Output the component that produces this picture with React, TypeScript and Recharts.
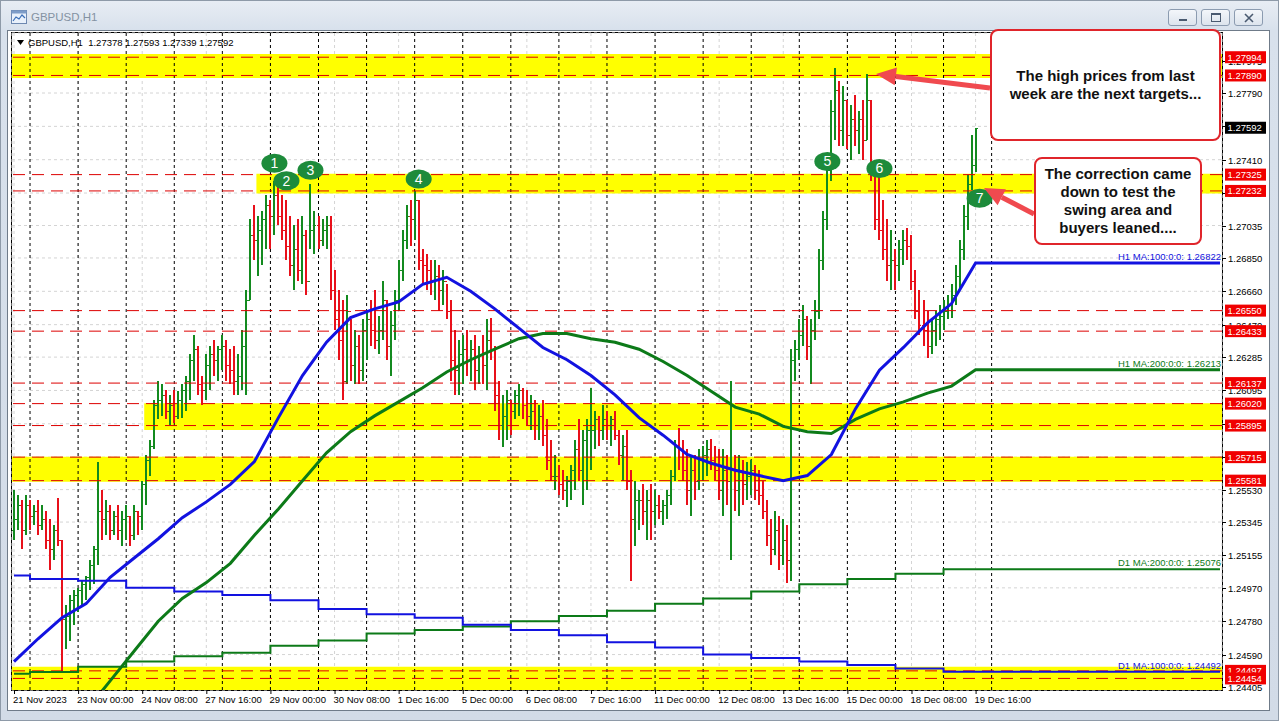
import React from 'react';
import {
  ComposedChart,
  Bar,
  Line,
  XAxis,
  YAxis,
  CartesianGrid,
  ReferenceLine,
  ReferenceArea,
  ReferenceDot,
} from 'recharts';

const FONT = "'Liberation Sans', Arial, Helvetica, sans-serif";

// ---------- time axis (2-hour bars) ----------
const tradingDays = [
  '21 Nov', '22 Nov', '23 Nov', '24 Nov', '27 Nov', '28 Nov', '29 Nov', '30 Nov',
  '1 Dec', '4 Dec', '5 Dec', '6 Dec', '7 Dec', '8 Dec', '11 Dec', '12 Dec', '13 Dec',
  '14 Dec', '15 Dec', '18 Dec', '19 Dec', '20 Dec', '21 Dec', '22 Dec', '25 Dec', '26 Dec',
];
const firstBarHour = 16; // 21 Nov 16:00
const barHours = 2;
const slotCount = 302; // bars + empty shift space on the right

const xTickLabels = [
  '21 Nov 2023', '23 Nov 00:00', '24 Nov 08:00', '27 Nov 16:00', '29 Nov 00:00',
  '30 Nov 08:00', '1 Dec 16:00', '5 Dec 00:00', '6 Dec 08:00', '7 Dec 16:00',
  '11 Dec 00:00', '12 Dec 08:00', '13 Dec 16:00', '15 Dec 00:00', '18 Dec 08:00',
  '19 Dec 16:00',
];

// ---------- price bars ----------
const firstOpen = 1.253;
const barHigh = [
  1.2553, 1.2550, 1.2547, 1.2550,
  1.2547, 1.2544, 1.2547, 1.2544, 1.2541, 1.2536, 1.2533, 1.2548, 1.2524, 1.2487, 1.2493, 1.2496,
  1.2497, 1.2501, 1.2504, 1.2513, 1.2521, 1.2569, 1.2553, 1.2547, 1.2544, 1.2541, 1.2544, 1.2541,
  1.2544, 1.2538, 1.2544, 1.2541, 1.2558, 1.2573, 1.2581, 1.2604, 1.2615, 1.2613, 1.2610, 1.2607,
  1.2610, 1.2609, 1.2613, 1.2618, 1.2630, 1.2641, 1.2635, 1.2618, 1.2630, 1.2635, 1.2638, 1.2635,
  1.2641, 1.2638, 1.2633, 1.2635, 1.2630, 1.2644, 1.2667, 1.2707, 1.2715, 1.2709, 1.2712, 1.2721,
  1.2718, 1.2729, 1.2727, 1.2721, 1.2718, 1.2709, 1.2704, 1.2707, 1.2709, 1.2701, 1.2727, 1.2712,
  1.2709, 1.2707, 1.2709, 1.2709, 1.2678, 1.2667, 1.2661, 1.2664, 1.2650, 1.2644, 1.2641, 1.2650,
  1.2655, 1.2661, 1.2667, 1.2652, 1.2672, 1.2661, 1.2655, 1.2667, 1.2684, 1.2701, 1.2715, 1.2718,
  1.2723, 1.2718, 1.2690, 1.2687, 1.2684, 1.2684, 1.2681, 1.2678, 1.2670, 1.2661, 1.2644, 1.2638,
  1.2641, 1.2644, 1.2638, 1.2641, 1.2635, 1.2641, 1.2650, 1.2651, 1.2635, 1.2615, 1.2607, 1.2610,
  1.2604, 1.2610, 1.2613, 1.2611, 1.2610, 1.2607, 1.2604, 1.2601, 1.2604, 1.2593, 1.2581, 1.2573,
  1.2567, 1.2564, 1.2561, 1.2567, 1.2581, 1.2593, 1.2587, 1.2593, 1.2611, 1.2598, 1.2595, 1.2601,
  1.2598, 1.2595, 1.2598, 1.2587, 1.2584, 1.2587, 1.2564, 1.2558, 1.2553, 1.2556, 1.2553, 1.2556,
  1.2553, 1.2550, 1.2547, 1.2553, 1.2564, 1.2581, 1.2588, 1.2581, 1.2576, 1.2573, 1.2573, 1.2576,
  1.2578, 1.2581, 1.2582, 1.2578, 1.2576, 1.2576, 1.2573, 1.2615, 1.2573, 1.2573, 1.2570, 1.2569,
  1.2570, 1.2567, 1.2564, 1.2558, 1.2547, 1.2536, 1.2541, 1.2538, 1.2536, 1.2533, 1.2633, 1.2638,
  1.2650, 1.2658, 1.2652, 1.2650, 1.2661, 1.2690, 1.2712, 1.2741, 1.2775, 1.2793, 1.2786, 1.2783,
  1.2775, 1.2772, 1.2778, 1.2769, 1.2775, 1.2790, 1.2775, 1.2741, 1.2732, 1.2718, 1.2707, 1.2701,
  1.2690, 1.2695, 1.2701, 1.2702, 1.2698, 1.2678, 1.2667, 1.2661, 1.2655, 1.2650, 1.2655, 1.2658,
  1.2661, 1.2664, 1.2670, 1.2681, 1.2695, 1.2715, 1.2732, 1.2755, 1.27593,
];
const barLow = [
  1.2524, 1.2530, 1.2519, 1.2527,
  1.2530, 1.2533, 1.2527, 1.2530, 1.2519, 1.2507, 1.2513, 1.2521, 1.2449, 1.2462, 1.2467, 1.2476,
  1.2483, 1.2487, 1.2490, 1.2496, 1.2499, 1.2510, 1.2524, 1.2527, 1.2524, 1.2527, 1.2524, 1.2521,
  1.2524, 1.2521, 1.2524, 1.2527, 1.2530, 1.2544, 1.2561, 1.2576, 1.2593, 1.2595, 1.2593, 1.2590,
  1.2591, 1.2593, 1.2594, 1.2598, 1.2604, 1.2615, 1.2607, 1.2601, 1.2604, 1.2610, 1.2618, 1.2615,
  1.2621, 1.2615, 1.2613, 1.2607, 1.2607, 1.2610, 1.2607, 1.2661, 1.2684, 1.2675, 1.2681, 1.2690,
  1.2690, 1.2698, 1.2704, 1.2695, 1.2684, 1.2675, 1.2667, 1.2672, 1.2670, 1.2664, 1.2690, 1.2687,
  1.2690, 1.2692, 1.2690, 1.2661, 1.2644, 1.2627, 1.2604, 1.2613, 1.2615, 1.2613, 1.2613, 1.2615,
  1.2627, 1.2635, 1.2633, 1.2630, 1.2638, 1.2627, 1.2618, 1.2638, 1.2655, 1.2672, 1.2690, 1.2692,
  1.2695, 1.2678, 1.2670, 1.2667, 1.2664, 1.2661, 1.2655, 1.2658, 1.2650, 1.2615, 1.2607, 1.2607,
  1.2613, 1.2618, 1.2615, 1.2610, 1.2613, 1.2613, 1.2610, 1.2627, 1.2598, 1.2581, 1.2577, 1.2581,
  1.2584, 1.2593, 1.2595, 1.2593, 1.2590, 1.2587, 1.2581, 1.2581, 1.2578, 1.2564, 1.2558, 1.2553,
  1.2550, 1.2547, 1.2543, 1.2547, 1.2553, 1.2558, 1.2544, 1.2553, 1.2564, 1.2576, 1.2578, 1.2581,
  1.2581, 1.2578, 1.2581, 1.2567, 1.2558, 1.2553, 1.2501, 1.2521, 1.2530, 1.2533, 1.2524, 1.2524,
  1.2533, 1.2536, 1.2533, 1.2536, 1.2544, 1.2558, 1.2564, 1.2558, 1.2544, 1.2538, 1.2547, 1.2553,
  1.2558, 1.2561, 1.2564, 1.2558, 1.2547, 1.2538, 1.2544, 1.2513, 1.2541, 1.2538, 1.2544, 1.2547,
  1.2550, 1.2547, 1.2544, 1.2536, 1.2521, 1.2510, 1.2516, 1.2507, 1.2510, 1.2500, 1.2501, 1.2615,
  1.2627, 1.2635, 1.2627, 1.2613, 1.2638, 1.2650, 1.2678, 1.2701, 1.2729, 1.2752, 1.2749, 1.2749,
  1.2747, 1.2741, 1.2749, 1.2744, 1.2741, 1.2752, 1.2729, 1.2701, 1.2695, 1.2684, 1.2672, 1.2667,
  1.2667, 1.2672, 1.2681, 1.2684, 1.2667, 1.2650, 1.2641, 1.2635, 1.2628, 1.2630, 1.2635, 1.2638,
  1.2644, 1.2650, 1.2651, 1.2658, 1.2667, 1.2684, 1.2701, 1.2724, 1.27339,
];
const barClose = [
  1.2536, 1.2544, 1.2530, 1.2544,
  1.2538, 1.2541, 1.2533, 1.2536, 1.2524, 1.2519, 1.2530, 1.2524, 1.2479, 1.2481, 1.2490, 1.2493,
  1.2496, 1.2499, 1.2503, 1.2510, 1.2519, 1.2541, 1.2536, 1.2541, 1.2530, 1.2538, 1.2530, 1.2536,
  1.2538, 1.2527, 1.2541, 1.2538, 1.2556, 1.2570, 1.2578, 1.2601, 1.2604, 1.2607, 1.2598, 1.2601,
  1.2595, 1.2604, 1.2610, 1.2615, 1.2627, 1.2633, 1.2613, 1.2610, 1.2624, 1.2630, 1.2627, 1.2633,
  1.2635, 1.2624, 1.2621, 1.2615, 1.2618, 1.2635, 1.2661, 1.2698, 1.2695, 1.2701, 1.2707, 1.2715,
  1.2709, 1.2721, 1.2709, 1.2701, 1.2692, 1.2681, 1.2690, 1.2678, 1.2698, 1.2672, 1.2701, 1.2704,
  1.2695, 1.2701, 1.2704, 1.2667, 1.2650, 1.2638, 1.2615, 1.2655, 1.2624, 1.2635, 1.2621, 1.2644,
  1.2650, 1.2644, 1.2638, 1.2644, 1.2661, 1.2635, 1.2647, 1.2661, 1.2678, 1.2695, 1.2709, 1.2707,
  1.2718, 1.2684, 1.2681, 1.2678, 1.2672, 1.2675, 1.2667, 1.2672, 1.2655, 1.2627, 1.2621, 1.2630,
  1.2633, 1.2627, 1.2633, 1.2621, 1.2630, 1.2624, 1.2638, 1.2633, 1.2607, 1.2590, 1.2595, 1.2604,
  1.2598, 1.2607, 1.2610, 1.2601, 1.2595, 1.2598, 1.2590, 1.2595, 1.2584, 1.2570, 1.2561, 1.2561,
  1.2556, 1.2553, 1.2558, 1.2564, 1.2576, 1.2564, 1.2581, 1.2587, 1.2587, 1.2593, 1.2587, 1.2593,
  1.2590, 1.2593, 1.2584, 1.2573, 1.2578, 1.2558, 1.2536, 1.2547, 1.2547, 1.2541, 1.2547, 1.2541,
  1.2544, 1.2541, 1.2544, 1.2550, 1.2561, 1.2578, 1.2576, 1.2564, 1.2553, 1.2564, 1.2558, 1.2570,
  1.2573, 1.2576, 1.2570, 1.2564, 1.2553, 1.2564, 1.2558, 1.2564, 1.2553, 1.2564, 1.2556, 1.2561,
  1.2564, 1.2553, 1.2550, 1.2541, 1.2527, 1.2519, 1.2530, 1.2516, 1.2524, 1.2513, 1.2627, 1.2633,
  1.2641, 1.2650, 1.2635, 1.2644, 1.2655, 1.2684, 1.2707, 1.2735, 1.2769, 1.2781, 1.2758, 1.2775,
  1.2755, 1.2764, 1.2758, 1.2764, 1.2752, 1.2775, 1.2735, 1.2707, 1.2701, 1.2690, 1.2681, 1.2684,
  1.2681, 1.2690, 1.2695, 1.2692, 1.2672, 1.2655, 1.2647, 1.2644, 1.2635, 1.2644, 1.2650, 1.2652,
  1.2655, 1.2658, 1.2664, 1.2675, 1.2690, 1.2709, 1.2727, 1.27378, 1.27592,
];

// ---------- moving averages ----------
const h1MaStep = 6; // one reading every 6 bars
const h1Ma100 = [
  1.2455, 1.2468, 1.2480, 1.2488, 1.2503, 1.2514, 1.2525, 1.2537, 1.2546, 1.2556, 1.2569,
  1.2594, 1.2618, 1.2637, 1.2651, 1.2656, 1.2660, 1.2670, 1.2674, 1.2666, 1.2656, 1.2645,
  1.2634, 1.2627, 1.2618, 1.2607, 1.2594, 1.2584, 1.2573, 1.2568, 1.2564, 1.2561, 1.2558,
  1.2561, 1.2573, 1.2599, 1.2621, 1.2634, 1.2648, 1.2659, 1.26822,
];
const h1Ma200 = [
  null, null, null, 1.2427, 1.2444, 1.2461, 1.2478, 1.2491, 1.2500, 1.2511, 1.2527,
  1.2542, 1.2558, 1.2574, 1.2586, 1.2595, 1.2603, 1.2611, 1.2620, 1.2627, 1.2633, 1.2639,
  1.2642, 1.2642, 1.2639, 1.2637, 1.2633, 1.2626, 1.2618, 1.2609, 1.2600, 1.2596, 1.2589,
  1.2586, 1.2585, 1.2593, 1.2599, 1.2603, 1.2608, 1.2612, 1.26213,
];
const d1Ma200 = [
  1.2448, 1.2449, 1.2452, 1.2455, 1.2458, 1.2460, 1.2464, 1.2467, 1.2471, 1.2473, 1.2475,
  1.2478, 1.2481, 1.2484, 1.2488, 1.2491, 1.2495, 1.2499, 1.2502, 1.2505, 1.25076,
];
const d1Ma100 = [
  1.2504, 1.2502, 1.2501, 1.2497, 1.2495, 1.2493, 1.2490, 1.2485, 1.2482, 1.2480, 1.2476,
  1.2473, 1.2470, 1.2466, 1.2463, 1.2459, 1.2457, 1.2455, 1.2453, 1.2451, 1.24492,
];

// ---------- price axis ----------
const Y_MIN = 1.24388;
const Y_MAX = 1.28132;
const yTicks = [
  1.24405, 1.2459, 1.2478, 1.2497, 1.25155, 1.25345, 1.2553, 1.25715, 1.25905, 1.26095,
  1.26285, 1.2647, 1.2666, 1.2685, 1.27035, 1.2722, 1.2741, 1.276, 1.2779, 1.27975,
];
const levelLines = [
  1.27994, 1.2789, 1.27325, 1.27232, 1.2655, 1.26433, 1.26137, 1.2602, 1.25895, 1.25715,
  1.25581, 1.24497, 1.24454,
];
const lastPrice = 1.27592;
const headerText = 'GBPUSD,H1  1.27378 1.27593 1.27339 1.27592';

// yellow zones: top, bottom, first bar time (null = whole chart)
const zoneTop = [1.28012, 1.2733, 1.26022, 1.25717, 1.2452];
const zoneBottom = [1.27876, 1.27218, 1.2587, 1.25575, 1.24388];
const zoneStart = [null, '28 Nov 18:00', '24 Nov 10:00', null, null];

// swing markers
const swingNumbers = ['1', '2', '3', '4', '5', '6', '7'];
const swingTimes = [
  '29 Nov 02:00', '29 Nov 08:00', '29 Nov 20:00', '4 Dec 02:00', '14 Dec 14:00',
  '15 Dec 16:00', '19 Dec 18:00',
];
const swingPrices = [1.2739, 1.2729, 1.2735, 1.273, 1.274, 1.2736, 1.2719];

// ---------- colours ----------
const BAR_UP = '#138a1f';
const BAR_DOWN = '#e8101a';
const MA_BLUE = '#1212e0';
const MA_GREEN = '#0c7a18';
const LEVEL_RED = '#dd0000';

// ---------- build table ----------
const slots: string[] = Array.from({ length: slotCount }, (_, i) => {
  const h = firstBarHour + i * barHours;
  const day = tradingDays[Math.floor(h / 24)];
  const hh = h % 24;
  return `${day} ${hh < 10 ? '0' + hh : hh}:00`;
});
const xTickCats = xTickLabels.map((l) => (l.includes(':') ? l : slots[0]));
const daySeparators = tradingDays.slice(1, 22).map((d) => `${d} 00:00`);
const d1Days = tradingDays.slice(0, d1Ma200.length);

const rows = slots.map((t, i) => {
  const row: any = { t };
  if (i < barHigh.length) {
    row.range = [barLow[i], barHigh[i]];
    row.open = i === 0 ? firstOpen : barClose[i - 1];
    row.close = barClose[i];
  }
  if (i % h1MaStep === 0 && i / h1MaStep < h1Ma100.length) {
    row.h1ma100 = h1Ma100[i / h1MaStep];
    row.h1ma200 = h1Ma200[i / h1MaStep];
  }
  const dIdx = i === 0 ? 0 : d1Days.findIndex((d) => `${d} 00:00` === t);
  if (dIdx >= 0) {
    row.d1ma200 = d1Ma200[dIdx];
    row.d1ma100 = d1Ma100[dIdx];
  }
  if (i === slotCount - 1) {
    row.h1ma100 = h1Ma100[h1Ma100.length - 1];
    row.h1ma200 = h1Ma200[h1Ma200.length - 1];
    row.d1ma200 = d1Ma200[d1Ma200.length - 1];
    row.d1ma100 = d1Ma100[d1Ma100.length - 1];
  }
  return row;
});

// ---------- renderers ----------
const OhlcShape = (props: any) => {
  const { x, y, width, height, payload } = props;
  if (!payload || !payload.range || !isFinite(y) || !isFinite(height)) return <g />;
  const [lo, hi] = payload.range;
  const span = hi - lo || 1e-9;
  const py = (p: number) => Math.round(y + ((hi - p) / span) * height) + 0.5;
  const cx = Math.round(x + width / 2);
  const col = payload.close >= payload.open ? BAR_UP : BAR_DOWN;
  const yo = py(payload.open);
  const yc = py(payload.close);
  return (
    <g stroke={col} shapeRendering="crispEdges">
      <line x1={cx} x2={cx} y1={y} y2={y + Math.max(height, 1)} strokeWidth={2} />
      <line x1={cx - 2} x2={cx} y1={yo} y2={yo} strokeWidth={1} />
      <line x1={cx} x2={cx + 2} y1={yc} y2={yc} strokeWidth={1} />
    </g>
  );
};

const XTick = (props: any) => {
  const { x, y, payload } = props;
  const idx = xTickCats.indexOf(payload.value);
  const label = idx >= 0 ? xTickLabels[idx] : payload.value;
  return (
    <g>
      <line x1={x + 0.5} x2={x + 0.5} y1={y} y2={y + 4} stroke="#000" />
      <text x={x - 1} y={y + 13} fontSize={9.5} fontFamily={FONT} fill="#000" textAnchor="start">
        {label}
      </text>
    </g>
  );
};

const tickTag = (text: string) => (props: any) => {
  const vb = props.viewBox || {};
  const x0 = vb.x + vb.width;
  const y0 = Math.round(vb.y) + 0.5;
  return (
    <g>
      <line x1={x0} x2={x0 + 4} y1={y0} y2={y0} stroke="#000" />
      <text x={x0 + 6} y={y0 + 3.5} fontSize={9.5} fontFamily={FONT} fill="#000">
        {text}
      </text>
    </g>
  );
};

const priceTag = (text: string, bg: string) => (props: any) => {
  const vb = props.viewBox || {};
  const x0 = vb.x + vb.width;
  const y0 = vb.y;
  return (
    <g>
      <rect x={x0 + 3} y={y0 - 6} width={41} height={12} fill={bg} />
      <text x={x0 + 5.5} y={y0 + 3.5} fontSize={9.5} fontFamily={FONT} fill="#fff">
        {text}
      </text>
    </g>
  );
};

const maTag = (text: string, color: string) => (props: any) => {
  const vb = props.viewBox || {};
  return (
    <text
      x={vb.x + vb.width - 1}
      y={vb.y - 3}
      textAnchor="end"
      fontSize={9.5}
      fontFamily={FONT}
      fill={color}
    >
      {text}
    </text>
  );
};

const SwingShape = (label: string) => (props: any) => {
  const { cx, cy } = props;
  return (
    <g>
      <ellipse cx={cx} cy={cy} rx={13} ry={9.5} fill="#1d8b3b" />
      <text
        x={cx}
        y={cy + 5}
        textAnchor="middle"
        fontSize={14}
        fontFamily={FONT}
        fill="#fff"
      >
        {label}
      </text>
    </g>
  );
};

function arrow(x1: number, y1: number, x2: number, y2: number, head = 20, half = 9) {
  const dx = x2 - x1;
  const dy = y2 - y1;
  const len = Math.hypot(dx, dy);
  const ux = dx / len;
  const uy = dy / len;
  const bx = x2 - ux * head;
  const by = y2 - uy * head;
  const px = -uy;
  const py = ux;
  return {
    shaft: { x1, y1, x2: bx, y2: by },
    head: `${x2},${y2} ${bx + px * half},${by + py * half} ${bx - px * half},${by - py * half}`,
  };
}

const arrow1 = arrow(990, 88, 876, 74);
const arrow2 = arrow(1034, 214, 984, 188);
const ARROW = '#f04a4f';

const btn = (left: number) => ({
  position: 'absolute' as const,
  left,
  top: 9,
  width: 29,
  height: 17,
  boxSizing: 'border-box' as const,
  border: '1px solid #8b9bb0',
  borderRadius: 3,
  background: 'linear-gradient(#f3f6fa, #dde4ed)',
});

const boxStyle = {
  position: 'absolute' as const,
  boxSizing: 'border-box' as const,
  border: '2px solid #e0252b',
  borderRadius: 8,
  background: '#fff',
  display: 'flex',
  alignItems: 'center',
  justifyContent: 'center',
  textAlign: 'center' as const,
  fontFamily: FONT,
  fontWeight: 700,
  fontSize: 15,
  lineHeight: '18px',
  color: '#111',
};

export default function App() {
  return (
    <div
      style={{
        position: 'absolute',
        left: 0,
        top: 0,
        width: 1279,
        height: 721,
        overflow: 'hidden',
        background: 'linear-gradient(180deg, #e8edf4 0px, #d8e1ec 30px, #d2dbe7 100%)',
        fontFamily: FONT,
      }}
    >
      <div
        style={{
          position: 'absolute',
          inset: 0,
          border: '1px solid #8e9aa8',
          boxSizing: 'border-box',
        }}
      />
      {/* title */}
      <svg style={{ position: 'absolute', left: 11, top: 10 }} width={16} height={14}>
        <rect x={0.5} y={0.5} width={15} height={13} fill="#e9f1fb" stroke="#6d88b0" />
        <rect x={0.5} y={0.5} width={15} height={3} fill="#7d9cc8" />
        <polyline points="2,11 5,7 8,9 11,5 14,8" fill="none" stroke="#3a6fb8" strokeWidth={1.2} />
      </svg>
      <div style={{ position: 'absolute', left: 31, top: 11, fontSize: 11.5, color: '#8492a2' }}>
        GBPUSD,H1
      </div>
      <div style={btn(1168)}>
        <div style={{ position: 'absolute', left: 10, top: 9, width: 8, height: 2, background: '#4a5a70' }} />
      </div>
      <div style={btn(1201)}>
        <div
          style={{
            position: 'absolute',
            left: 9,
            top: 3,
            width: 10,
            height: 9,
            boxSizing: 'border-box',
            border: '1px solid #4a5a70',
            borderTop: '2px solid #4a5a70',
          }}
        />
      </div>
      <div style={btn(1234)}>
        <svg style={{ position: 'absolute', left: 9, top: 3 }} width={10} height={10}>
          <path d="M1,1 L9,9 M9,1 L1,9" stroke="#4a5a70" strokeWidth={1.6} />
        </svg>
      </div>

      {/* client area */}
      <div
        style={{
          position: 'absolute',
          left: 7,
          top: 30,
          width: 1263,
          height: 681,
          background: '#fff',
          border: '1px solid #6f7b89',
          boxSizing: 'border-box',
        }}
      />
      <div
        style={{
          position: 'absolute',
          left: 11,
          top: 32,
          width: 1212,
          height: 659,
          border: '1px solid #000',
          boxSizing: 'border-box',
        }}
      />

      <div style={{ position: 'absolute', left: 0, top: 0 }}>
        <ComposedChart
          width={1279}
          height={721}
          data={rows}
          margin={{ top: 33, right: 11, bottom: 14, left: 12 }}
          barCategoryGap={0}
        >
          <CartesianGrid stroke="#d4d4d4" strokeDasharray="3 3" />
          <XAxis
            dataKey="t"
            type="category"
            ticks={xTickCats}
            interval={0}
            tick={<XTick />}
            tickLine={false}
            axisLine={false}
            tickSize={0}
            tickMargin={0}
            height={17}
          />
          <YAxis
            orientation="right"
            type="number"
            domain={[Y_MIN, Y_MAX]}
            ticks={yTicks}
            allowDataOverflow
            tick={() => <g />}
            tickLine={false}
            axisLine={false}
            width={46}
          />

          {zoneTop.map((top, k) => (
            <ReferenceArea
              key={`z${k}`}
              y1={zoneBottom[k]}
              y2={top}
              x1={zoneStart[k] ?? undefined}
              fill="#ffff00"
              fillOpacity={1}
              stroke="none"
              ifOverflow="hidden"
              zIndex={-60}
            />
          ))}

          {daySeparators.map((d) => (
            <ReferenceLine
              key={d}
              x={d}
              stroke="#000"
              strokeWidth={1}
              strokeDasharray="3 3"
              zIndex={-50}
            />
          ))}

          <Bar dataKey="range" shape={OhlcShape} isAnimationActive={false} />

          {levelLines.map((v) => (
            <ReferenceLine
              key={`l${v}`}
              y={v}
              stroke={LEVEL_RED}
              strokeWidth={1}
              strokeDasharray="12 7"
            />
          ))}

          <Line
            dataKey="d1ma200"
            type="stepAfter"
            stroke={MA_GREEN}
            strokeWidth={2}
            dot={false}
            activeDot={false}
            connectNulls
            isAnimationActive={false}
          />
          <Line
            dataKey="d1ma100"
            type="stepAfter"
            stroke={MA_BLUE}
            strokeWidth={2}
            dot={false}
            activeDot={false}
            connectNulls
            isAnimationActive={false}
          />
          <Line
            dataKey="h1ma200"
            type="linear"
            stroke={MA_GREEN}
            strokeWidth={3}
            dot={false}
            activeDot={false}
            connectNulls
            isAnimationActive={false}
          />
          <Line
            dataKey="h1ma100"
            type="linear"
            stroke={MA_BLUE}
            strokeWidth={3}
            dot={false}
            activeDot={false}
            connectNulls
            isAnimationActive={false}
          />

          {/* price scale labels */}
          {yTicks.map((v) => (
            <ReferenceLine key={`t${v}`} y={v} stroke="none" label={tickTag(v.toFixed(5))} />
          ))}
          {levelLines.map((v) => (
            <ReferenceLine
              key={`p${v}`}
              y={v}
              stroke="none"
              label={priceTag(v.toFixed(5), '#f00000')}
            />
          ))}
          <ReferenceLine y={lastPrice} stroke="none" label={priceTag(lastPrice.toFixed(5), '#000')} />

          {/* MA value labels */}
          <ReferenceLine
            y={h1Ma100[h1Ma100.length - 1]}
            stroke="none"
            label={maTag(`H1 MA:100:0:0: ${h1Ma100[h1Ma100.length - 1]!.toFixed(5)}`, MA_BLUE)}
          />
          <ReferenceLine
            y={h1Ma200[h1Ma200.length - 1]!}
            stroke="none"
            label={maTag(`H1 MA:200:0:0: ${h1Ma200[h1Ma200.length - 1]!.toFixed(5)}`, MA_GREEN)}
          />
          <ReferenceLine
            y={d1Ma200[d1Ma200.length - 1]}
            stroke="none"
            label={maTag(`D1 MA:200:0:0: ${d1Ma200[d1Ma200.length - 1].toFixed(5)}`, MA_GREEN)}
          />
          <ReferenceLine
            y={d1Ma100[d1Ma100.length - 1]}
            stroke="none"
            label={maTag(`D1 MA:100:0:0: ${d1Ma100[d1Ma100.length - 1].toFixed(5)}`, MA_BLUE)}
          />

          {swingNumbers.map((n, k) => (
            <ReferenceDot
              key={`s${n}`}
              x={swingTimes[k]}
              y={swingPrices[k]}
              r={10}
              shape={SwingShape(n)}
            />
          ))}
        </ComposedChart>
      </div>

      {/* header inside chart */}
      <svg style={{ position: 'absolute', left: 17, top: 40 }} width={8} height={6}>
        <polygon points="0,0 7,0 3.5,5" fill="#000" />
      </svg>
      <div
        style={{
          position: 'absolute',
          left: 28,
          top: 37,
          fontSize: 9.5,
          color: '#000',
          whiteSpace: 'pre',
          lineHeight: '12px',
        }}
      >
        {headerText}
      </div>

      {/* annotation arrows */}
      <svg
        style={{ position: 'absolute', left: 0, top: 0, pointerEvents: 'none' }}
        width={1279}
        height={721}
      >
        <line {...arrow1.shaft} stroke={ARROW} strokeWidth={5} />
        <polygon points={arrow1.head} fill={ARROW} />
        <line {...arrow2.shaft} stroke={ARROW} strokeWidth={5} />
        <polygon points={arrow2.head} fill={ARROW} />
      </svg>

      {/* annotation boxes */}
      <div style={{ ...boxStyle, left: 990, top: 29, width: 231, height: 112 }}>
        <div>
          The high prices from last
          <br />
          week are the next targets...
        </div>
      </div>
      <div style={{ ...boxStyle, left: 1034, top: 157, width: 168, height: 88 }}>
        <div>
          The correction came
          <br />
          down to test the
          <br />
          swing area and
          <br />
          buyers leaned....
        </div>
      </div>
    </div>
  );
}
